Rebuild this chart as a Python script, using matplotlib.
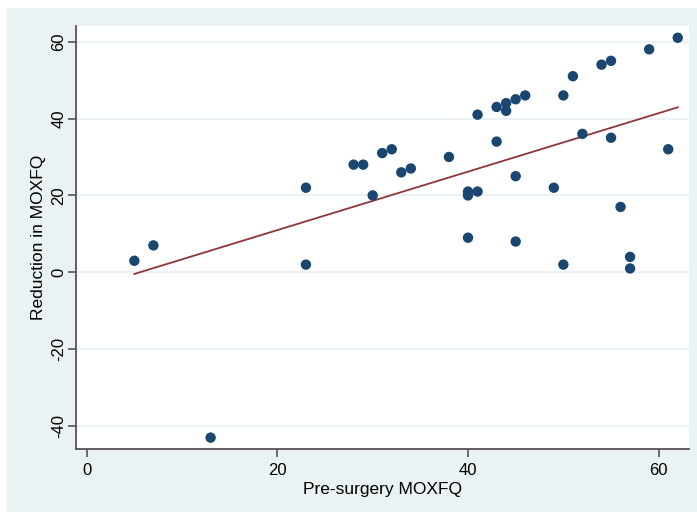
import numpy as np
import matplotlib
matplotlib.use("Agg")
import matplotlib.pyplot as plt
from matplotlib.patches import Rectangle

# Data
pre_surgery = [5, 7, 13, 23, 23, 28, 29, 30, 31, 32, 33, 34, 38, 40, 40, 40, 41, 41,
               43, 43, 44, 44, 45, 45, 45, 46, 49, 50, 50, 51, 52, 54, 55, 55, 56, 57,
               57, 59, 61, 62]
reduction = [3, 7, -43, 22, 2, 28, 28, 20, 31, 32, 26, 27, 30, 21, 20, 9, 21, 41,
             43, 34, 44, 42, 45, 25, 8, 46, 22, 46, 2, 51, 36, 54, 55, 35, 17, 4,
             1, 58, 32, 61]
x_ticks = [0, 20, 40, 60]
y_ticks = [-40, -20, 0, 20, 40, 60]
x_label = "Pre-surgery MOXFQ"
y_label = "Reduction in MOXFQ"

plt.rcParams['font.family'] = ['Liberation Sans', 'DejaVu Sans']

W, H = 697, 512
fig = plt.figure(figsize=(W / 100, H / 100), dpi=100)
fig.patch.set_facecolor('white')
bg = Rectangle((7 / W, 0), 1 - 7 / W, 1 - 8 / H, transform=fig.transFigure,
               facecolor='#EAF2F3', edgecolor='none', zorder=-10)
fig.add_artist(bg)

ax = fig.add_axes([76 / W, 1 - 449 / H, (689 - 76) / W, (449 - 26) / H])
ax.set_zorder(5)
ax.set_facecolor('white')

x = np.array(pre_surgery, dtype=float)
y = np.array(reduction, dtype=float)
slope, intercept = np.polyfit(x, y, 1)
xf = np.array([x.min(), x.max()])

ax.scatter(x, y, s=56, color='#1A476F', edgecolors='none', zorder=3)
ax.plot(xf, intercept + slope * xf, color='#90353B', lw=1.3, zorder=2)

ax.set_xlim(-1.12, 63.18)
ax.set_ylim(-45.96, 64.06)
ax.set_xticks(x_ticks)
ax.set_yticks(y_ticks)
ax.set_yticklabels([str(v) for v in y_ticks], rotation=90, va='center')
ax.tick_params(axis='both', labelsize=12, length=6, width=1.2, color='#555555',
               labelcolor='black')
ax.tick_params(axis='x', pad=4)
ax.tick_params(axis='y', pad=1)

ax.yaxis.grid(True, color='#EAF2F3', lw=1.5, zorder=0)
ax.xaxis.grid(False)
ax.set_axisbelow(True)

for s in ['top', 'right']:
    ax.spines[s].set_visible(False)
for s in ['left', 'bottom']:
    ax.spines[s].set_color('#555555')
    ax.spines[s].set_linewidth(1.3)

ax.set_xlabel(x_label, fontsize=12.5, labelpad=3)
ax.set_ylabel(y_label, fontsize=12.5, labelpad=4)

fig.savefig('out.png', dpi=100, facecolor=fig.get_facecolor())
